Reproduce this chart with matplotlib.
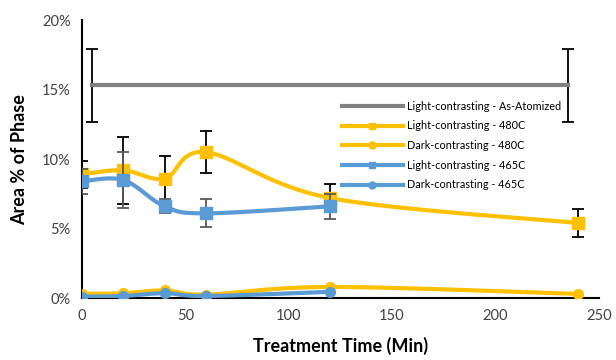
import numpy as np
import matplotlib.pyplot as plt
from matplotlib.lines import Line2D

plt.rcParams['font.family'] = ['Lato', 'DejaVu Sans']

# data (treatment time in minutes, area % of phase)
x_atom = [5, 235]
y_atom = [15.3, 15.3]
err_atom = [2.6, 2.6]

x_480 = [0, 20, 40, 60, 120, 240]
light_480 = [8.9, 9.2, 8.6, 10.5, 7.2, 5.4]
light_480_err = [1.0, 2.4, 1.6, 1.5, 1.0, 1.0]
dark_480 = [0.3, 0.35, 0.55, 0.25, 0.8, 0.3]

x_465 = [0, 20, 40, 60, 120]
light_465 = [8.4, 8.5, 6.6, 6.1, 6.6]
light_465_err = [0.9, 2.0, 0.5, 1.0, 0.9]
dark_465 = [0.1, 0.15, 0.35, 0.15, 0.45]

labels = ['Light-contrasting - As-Atomized', 'Light-contrasting - 480C',
          'Dark-contrasting - 480C', 'Light-contrasting - 465C',
          'Dark-contrasting - 465C']

YELLOW = '#FFC000'
BLUE = '#5B9BD5'
GREY = '#808080'


def smooth(xs, ys, n=24):
    # Excel-like smoothed line: Catmull-Rom segments as cubic Bezier curves
    p = np.column_stack([xs, ys]).astype(float)
    out = []
    for i in range(len(p) - 1):
        p0 = p[i - 1] if i > 0 else p[i]
        p1, p2 = p[i], p[i + 1]
        p3 = p[i + 2] if i + 2 < len(p) else p[i + 1]
        c1 = p1 + (p2 - p0) / 6
        c2 = p2 - (p3 - p1) / 6
        t = np.linspace(0, 1, n)[:, None]
        seg = ((1 - t) ** 3 * p1 + 3 * (1 - t) ** 2 * t * c1
               + 3 * (1 - t) * t ** 2 * c2 + t ** 3 * p2)
        out.append(seg if i == 0 else seg[1:])
    out = np.vstack(out)
    return out[:, 0], out[:, 1]


fig = plt.figure(figsize=(6.16, 3.6), dpi=100)
ax = fig.add_axes([0.133, 0.172, 0.839, 0.772])

# as-atomized reference
ax.errorbar(x_atom, y_atom, yerr=err_atom, fmt='none', ecolor='black',
            elinewidth=1.3, capsize=4, capthick=1.3, zorder=2)
ax.plot(x_atom, y_atom, color=GREY, lw=3, zorder=3)

# 480C
ax.errorbar(x_480, light_480, yerr=light_480_err, fmt='none', ecolor='black',
            elinewidth=1.3, capsize=4, capthick=1.3, zorder=4)
sx, sy = smooth(x_480, light_480)
ax.plot(sx, sy, color=YELLOW, lw=3, zorder=5)
ax.plot(x_480, light_480, 's', color=YELLOW, ms=8, zorder=5)
sx, sy = smooth(x_480, dark_480)
ax.plot(sx, sy, color=YELLOW, lw=3, zorder=6)
ax.plot(x_480, dark_480, 'o', color=YELLOW, ms=7, zorder=6)

# 465C
ax.errorbar(x_465, light_465, yerr=light_465_err, fmt='none', ecolor='#595959',
            elinewidth=1.3, capsize=4, capthick=1.3, zorder=7)
sx, sy = smooth(x_465, light_465)
ax.plot(sx, sy, color=BLUE, lw=3, zorder=8)
ax.plot(x_465, light_465, 's', color=BLUE, ms=8, zorder=8)
sx, sy = smooth(x_465, dark_465)
ax.plot(sx, sy, color=BLUE, lw=3, zorder=9)
ax.plot(x_465, dark_465, 'o', color=BLUE, ms=7, zorder=9)

ax.set_xlim(0, 250)
ax.set_ylim(0, 20)
ax.set_xticks([0, 50, 100, 150, 200, 250])
ax.set_yticks([0, 5, 10, 15, 20])
ax.set_yticklabels([f'{v}%' for v in [0, 5, 10, 15, 20]])
ax.tick_params(length=0, labelsize=10.5, labelcolor='#404040', pad=8)
for s in ['top', 'right']:
    ax.spines[s].set_visible(False)
for s in ['left', 'bottom']:
    ax.spines[s].set_linewidth(1.5)
    ax.spines[s].set_color('black')
ax.set_xlabel('Treatment Time (Min)', fontsize=13, fontweight='bold', labelpad=10)
ax.set_ylabel('Area % of Phase', fontsize=13, fontweight='bold', labelpad=10)

handles = [
    Line2D([], [], color=GREY, lw=3),
    Line2D([], [], color=YELLOW, lw=3, marker='s', ms=5),
    Line2D([], [], color=YELLOW, lw=3, marker='o', ms=5),
    Line2D([], [], color=BLUE, lw=3, marker='s', ms=5),
    Line2D([], [], color=BLUE, lw=3, marker='o', ms=5),
]
ax.legend(handles, labels, loc='upper left', bbox_to_anchor=(0.503, 0.71),
          frameon=False, fontsize=7.8, handlelength=5.6, handletextpad=0.4,
          labelspacing=0.8, borderpad=0, borderaxespad=0)

fig.savefig('out.png', dpi=100)
